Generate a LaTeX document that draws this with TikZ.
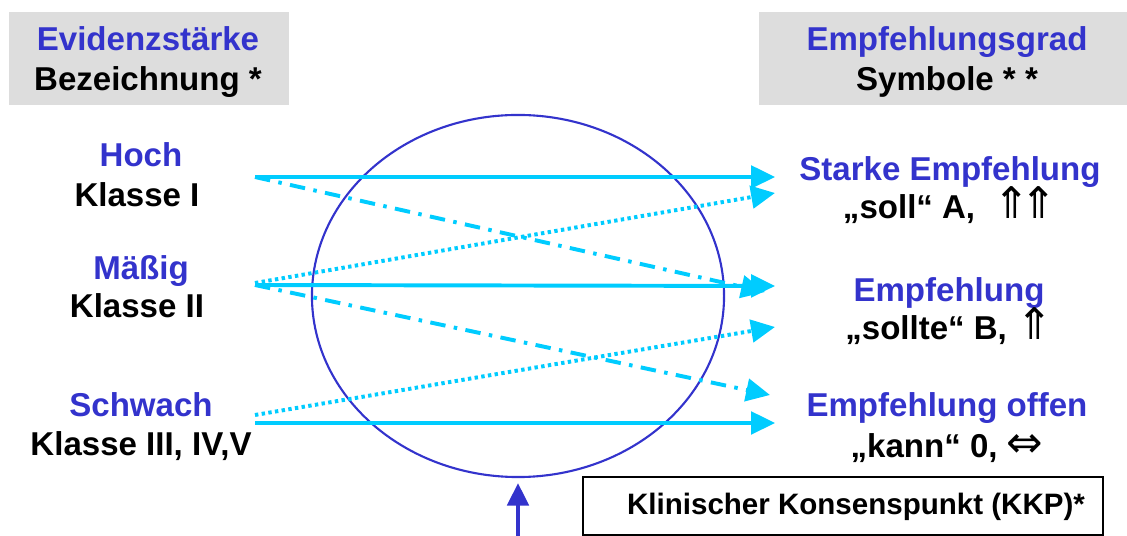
\documentclass[tikz,border=0pt]{standalone}
\usepackage{fontspec}
\setmainfont{Liberation Sans}
\newfontfamily\symfont{DejaVu Sans}
\usetikzlibrary{arrows.meta,shapes.geometric}

\definecolor{eblue}{HTML}{3333CC}
\definecolor{ecyan}{HTML}{00CCFF}
\definecolor{egray}{HTML}{DDDDDD}

\newcommand{\gradsym}[1]{{\symfont\mdseries\fontsize{31}{31}\selectfont #1}}

\tikzset{
  lbl/.style={anchor=base,font=\fontsize{23.5}{28}\selectfont\bfseries},
  head/.style={lbl,text=eblue},
  link/.style={ecyan,line width=2.8pt,-{Triangle[length=17pt,width=16pt]}},
  dotlink/.style={link,line width=2.8pt,dash pattern=on 2.4pt off 2.4pt},
  dashlink/.style={link,dash pattern=on 11pt off 6pt on 2.5pt off 6pt},
}

\begin{document}
\begin{tikzpicture}[x=0.025cm,y=-0.025cm]
  \useasboundingbox (0,0) rectangle (1127,536);

  % title boxes
  \fill[egray] (9,12) rectangle (289,105);
  \fill[egray] (759,12) rectangle (1127,105);
  \node[head] (evid) at (148,51) {Evidenzstärke};
  \node[lbl]  (bez)  at (148,91) {Bezeichnung *};
  \node[head] (grad) at (947,51) {Empfehlungsgrad};
  \node[lbl]  (sym)  at (947,91) {Symbole * *};

  % evidence levels
  \node[head] (hoch)    at (141,167) {Hoch};
  \node[lbl]  (kl1)     at (137,207) {Klasse I};
  \node[head] (maessig) at (141,280) {Mäßig};
  \node[lbl]  (kl2)     at (137,318) {Klasse II};
  \node[head] (schwach) at (141,417) {Schwach};
  \node[lbl]  (kl3)     at (141,456) {Klasse III, IV,V};

  % grades
  \node[head] (starkA) at (950,181) {Starke Empfehlung};
  \node[lbl]  (sollA)  at (950,219) {„soll“ A,~ \gradsym{⇑\kern-.22em⇑}};
  \node[head] (empfB)  at (949,302) {Empfehlung};
  \node[lbl]  (sollB)  at (949,340) {„sollte“ B, \gradsym{⇑}};
  \node[head] (offen0) at (947,417) {Empfehlung offen};
  \node[lbl]  (kann0)  at (947,458) {„kann“ 0, \gradsym{⇔}};

  % consensus box
  \node[draw,line width=1pt,minimum width=13cm,minimum height=1.45cm] (kkp) at (843,506) {};
  \node[anchor=base,font=\fontsize{21}{25}\selectfont\bfseries] (kkplbl) at (856,515)
    {Klinischer Konsenspunkt (KKP)*};

  % judgement circle
  \node[draw=eblue,line width=1.5pt,ellipse,minimum width=10.3cm,minimum height=9.05cm] (pool) at (518,296) {};
  \coordinate (foot) at (518,536);
  \draw[eblue,line width=3pt,-{Triangle[length=16pt,width=15pt]},shorten >=3.5pt] (foot) -- (pool.south);

  % start and end points
  \coordinate (hI)   at (255,177);
  \coordinate (mII)  at (255,285);
  \coordinate (mIIa) at (255,283);
  \coordinate (sIII) at (255,423);
  \coordinate (sIIIa) at (255,415);
  \coordinate (toA)  at (775,177);
  \coordinate (toA2) at (775,193);
  \coordinate (toB)  at (775,286);
  \coordinate (toB1) at (765,292);
  \coordinate (toB2) at (775,327);
  \coordinate (to0)  at (775,423);
  \coordinate (to01) at (770,395);

  \draw[link]     (hI) -- (toA);
  \draw[dashlink] (hI) -- (toB1);
  \draw[dotlink]  (mIIa) -- (toA2);
  \draw[link]     (mII) -- (toB);
  \draw[dashlink] (mII) -- (to01);
  \draw[dotlink]  (sIIIa) -- (toB2);
  \draw[link]     (sIII) -- (to0);

\end{tikzpicture}
\end{document}
